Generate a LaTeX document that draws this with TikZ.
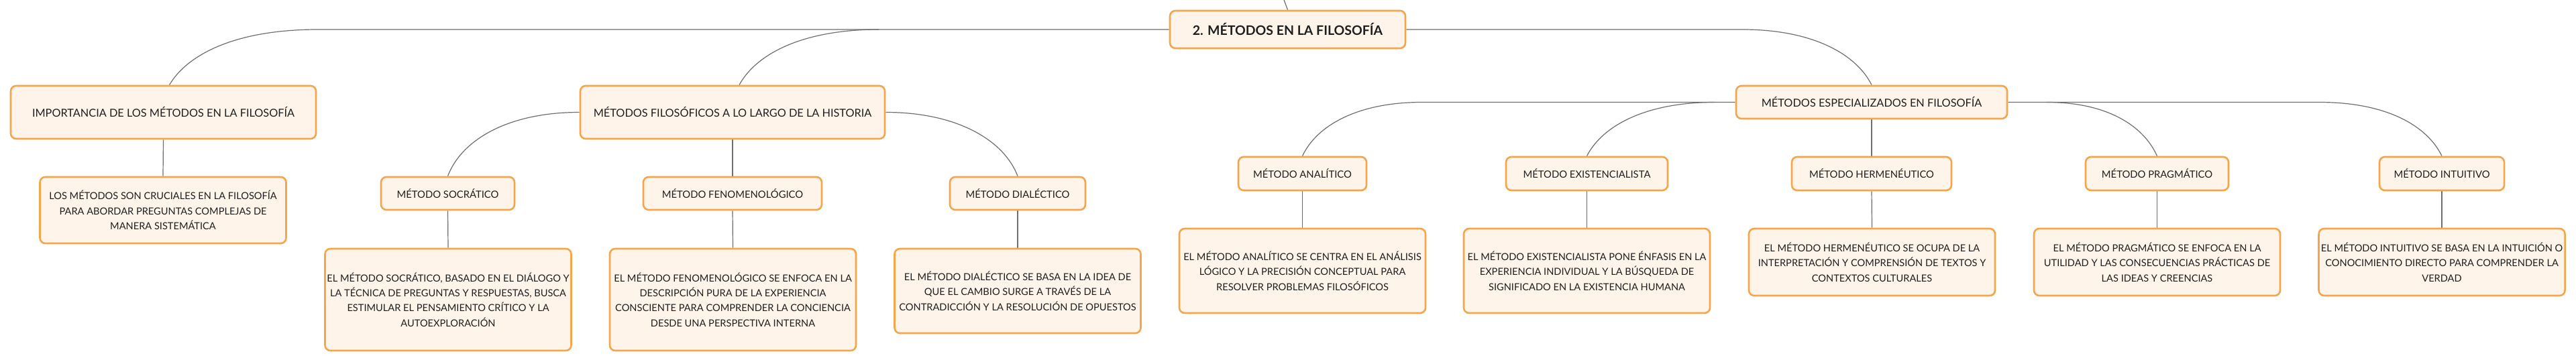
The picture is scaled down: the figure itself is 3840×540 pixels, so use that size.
\documentclass[tikz,border=0pt]{standalone}
\usepackage{fontspec}
\setmainfont{Lato}
\usetikzlibrary{calc}
\definecolor{boxfill}{HTML}{FEF4EA}
\definecolor{boxdraw}{HTML}{F5A64A}
\definecolor{linkc}{HTML}{6E6E6E}
\definecolor{txt}{HTML}{1E1E1E}
\pgfdeclarelayer{bg}
\pgfsetlayers{bg,main}
\begin{document}
\begin{tikzpicture}[x=1pt,y=-1pt,
  box/.style={draw=boxdraw, fill=boxfill, line width=2.6pt, rounded corners=8pt,
    inner sep=0pt, align=center, text=txt},
  lvltwo/.style={box, minimum height=79, font=\fontsize{16.3}{20}\selectfont},
  lvlthree/.style={box, minimum height=50, font=\fontsize{14.8}{18}\selectfont},
  desc/.style={box, minimum width=367, font=\fontsize{14.6}{22.3}\selectfont},
  link/.style={draw=linkc, line width=1.2pt}
]
\path[use as bounding box] (0,0) rectangle (3840,540);

% nodes
\node[box, minimum width=351, minimum height=56, font=\bfseries\fontsize{19.5}{23}\selectfont] (main) at (1919.5,44) {2. MÉTODOS EN LA FILOSOFÍA};

\node[lvltwo, minimum width=455] (imp) at (243.5,167.5) {IMPORTANCIA DE LOS MÉTODOS EN LA FILOSOFÍA};
\node[lvltwo, minimum width=454] (hist) at (1092,167.5) {MÉTODOS FILOSÓFICOS A LO LARGO DE LA HISTORIA};
\node[lvltwo, minimum width=404, minimum height=49] (esp) at (2790,152.5) {MÉTODOS ESPECIALIZADOS EN FILOSOFÍA};

\node[desc, minimum height=99] (impd) at (243,313.5) {LOS MÉTODOS SON CRUCIALES EN LA FILOSOFÍA\\PARA ABORDAR PREGUNTAS COMPLEJAS DE\\MANERA SISTEMÁTICA};

\node[lvlthree, minimum width=199, minimum height=49] (soc) at (667.5,288.5) {MÉTODO SOCRÁTICO};
\node[lvlthree, minimum width=266, minimum height=49] (fen) at (1092,288.5) {MÉTODO FENOMENOLÓGICO};
\node[lvlthree, minimum width=202, minimum height=49] (dia) at (1517,288.5) {MÉTODO DIALÉCTICO};

\node[desc, minimum height=152] (socd) at (668,447) {EL MÉTODO SOCRÁTICO, BASADO EN EL DIÁLOGO Y\\LA TÉCNICA DE PREGUNTAS Y RESPUESTAS, BUSCA\\ESTIMULAR EL PENSAMIENTO CRÍTICO Y LA\\AUTOEXPLORACIÓN};
\node[desc, minimum height=152] (fend) at (1092.5,447) {EL MÉTODO FENOMENOLÓGICO SE ENFOCA EN LA\\DESCRIPCIÓN PURA DE LA EXPERIENCIA\\CONSCIENTE PARA COMPRENDER LA CONCIENCIA\\DESDE UNA PERSPECTIVA INTERNA};
\node[desc, minimum height=126] (diad) at (1517,434) {EL MÉTODO DIALÉCTICO SE BASA EN LA IDEA DE\\QUE EL CAMBIO SURGE A TRAVÉS DE LA\\CONTRADICCIÓN Y LA RESOLUCIÓN DE OPUESTOS};

\node[lvlthree, minimum width=191] (ana) at (1941.5,259) {MÉTODO ANALÍTICO};
\node[lvlthree, minimum width=241] (exi) at (2365.5,259) {MÉTODO EXISTENCIALISTA};
\node[lvlthree, minimum width=238] (her) at (2790,259) {MÉTODO HERMENÉUTICO};
\node[lvlthree, minimum width=213] (pra) at (3215.5,259) {MÉTODO PRAGMÁTICO};
\node[lvlthree, minimum width=186] (int) at (3640,259) {MÉTODO INTUITIVO};

\node[desc, minimum height=126] (anad) at (1941.5,404) {EL MÉTODO ANALÍTICO SE CENTRA EN EL ANÁLISIS\\LÓGICO Y LA PRECISIÓN CONCEPTUAL PARA\\RESOLVER PROBLEMAS FILOSÓFICOS};
\node[desc, minimum height=126] (exid) at (2365.5,404) {EL MÉTODO EXISTENCIALISTA PONE ÉNFASIS EN LA\\EXPERIENCIA INDIVIDUAL Y LA BÚSQUEDA DE\\SIGNIFICADO EN LA EXISTENCIA HUMANA};
\node[desc, minimum height=100] (herd) at (2790.5,391) {EL MÉTODO HERMENÉUTICO SE OCUPA DE LA\\INTERPRETACIÓN Y COMPRENSIÓN DE TEXTOS Y\\CONTEXTOS CULTURALES};
\node[desc, minimum height=100] (prad) at (3215.5,391) {EL MÉTODO PRAGMÁTICO SE ENFOCA EN LA\\UTILIDAD Y LAS CONSECUENCIAS PRÁCTICAS DE\\LAS IDEAS Y CREENCIAS};
\node[desc, minimum height=100] (intd) at (3640,391) {EL MÉTODO INTUITIVO SE BASA EN LA INTUICIÓN O\\CONOCIMIENTO DIRECTO PARA COMPRENDER LA\\VERDAD};

% junction coordinates
\coordinate (top) at (1914,0);
\coordinate (jImp) at (474,44);
\coordinate (jHist) at (1310,44);
\coordinate (jEsp) at (2597,44);
\coordinate (jAna) at (2120,152.5);
\coordinate (jExi) at (2556,152.5);
\coordinate (jPra) at (3051,152.5);
\coordinate (jInt) at (3457,152.5);

\begin{pgfonlayer}{bg}
\fill[white] (0,0) rectangle (3840,540);
\draw[link] (top) -- (main.north);
\draw[link] (main.west) -- (jImp) .. controls ($(jImp)+(-122,0)$) and ($([xshift=9pt]imp.north)+(27,-46)$) .. ([xshift=9pt]imp.north);
\draw[link] (jHist) .. controls ($(jHist)+(-114,0)$) and ($([xshift=10pt]hist.north)+(25,-46)$) .. ([xshift=10pt]hist.north);
\draw[link] (main.east) -- (jEsp) .. controls ($(jEsp)+(105,0)$) and ($(esp.north)+(-23,-46)$) .. (esp.north);

\draw[link] (hist.west) .. controls ($(hist.west)+(-108,0)$) and ($(soc.north)+(20,-53)$) .. (soc.north);
\draw[link] (hist.east) .. controls ($(hist.east)+(107,0)$) and ($(dia.north)+(-20,-53)$) .. (dia.north);
\draw[link] (hist.south) -- (fen.north);
\draw[link] (imp.south) -- (impd.north);
\draw[link] (soc.south) -- (socd.north);
\draw[link] (fen.south) -- (fend.north);
\draw[link] (dia.south) -- (diad.north);

\draw[link] (esp.west) -- (jAna) .. controls ($(jAna)+(-97,0)$) and ($(ana.north)+(21,-45)$) .. (ana.north);
\draw[link] (jExi) .. controls ($(jExi)+(-103,0)$) and ($(exi.north)+(23,-45)$) .. (exi.north);
\draw[link] (esp.south) -- (her.north);
\draw[link] (esp.east) -- (jInt) .. controls ($(jInt)+(101,0)$) and ($(int.north)+(-22,-45)$) .. (int.north);
\draw[link] (jPra) .. controls ($(jPra)+(90,0)$) and ($(pra.north)+(-20,-45)$) .. (pra.north);

\draw[link] (ana.south) -- (anad.north);
\draw[link] (exi.south) -- (exid.north);
\draw[link] (her.south) -- (herd.north);
\draw[link] (pra.south) -- (prad.north);
\draw[link] (int.south) -- (intd.north);
\end{pgfonlayer}
\end{tikzpicture}
\end{document}
